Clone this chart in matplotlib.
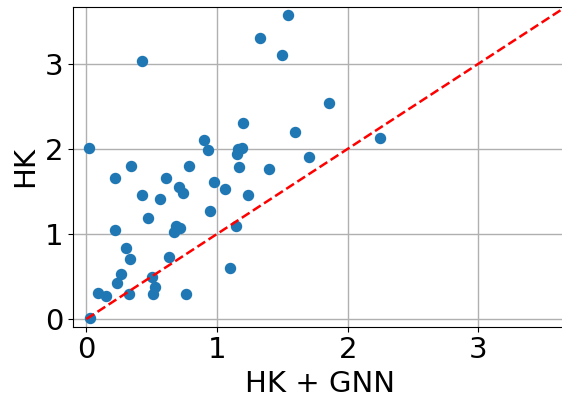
import matplotlib
matplotlib.use("Agg")
import matplotlib.pyplot as plt
import numpy as np

hk_gnn = [1.539, 1.332, 1.498, 0.429, 1.197, 1.600, 0.020, 0.901, 0.931, 1.158,
          1.194, 1.153, 1.705, 0.345, 0.783, 1.169, 1.396, 1.858, 2.243, 0.977,
          1.059, 1.238, 0.944, 1.148, 0.222, 0.607, 0.712, 0.743, 0.429, 0.561,
          0.472, 0.684, 0.714, 0.668, 0.222, 0.301, 0.337, 0.633, 1.100, 0.263,
          0.500, 0.235, 0.523, 0.089, 0.148, 0.329, 0.510, 0.760, 0.031]
hk = [3.573, 3.298, 3.098, 3.032, 2.298, 2.196, 2.008, 2.098, 1.992, 1.996,
      2.015, 1.937, 1.902, 1.800, 1.800, 1.790, 1.761, 2.533, 2.133, 1.616,
      1.529, 1.463, 1.274, 1.098, 1.663, 1.663, 1.549, 1.486, 1.463, 1.408,
      1.188, 1.094, 1.067, 1.027, 1.051, 0.831, 0.706, 0.725, 0.604, 0.529,
      0.498, 0.420, 0.373, 0.302, 0.271, 0.298, 0.294, 0.298, 0.012]

W, H = 562, 398
fig = plt.figure(figsize=(W / 100, H / 100), dpi=100)
left, right, top, bottom = 73.3, 566, 6.7, 326.7
ax = fig.add_axes([left / W, 1 - bottom / H, (right - left) / W, (bottom - top) / H])

ax.scatter(hk_gnn, hk, s=52, color="#1f77b4", zorder=3)
lim = [0, 3.8]
ax.plot(lim, lim, "r--", linewidth=1.8, zorder=4)
ax.set_xlim(-0.10, 3.67)
ax.set_ylim(-0.09, 3.67)
ax.set_xticks([0, 1, 2, 3])
ax.set_yticks([0, 1, 2, 3])
ax.grid(True, color="#b0b0b0", linewidth=1.0)
ax.set_axisbelow(True)
ax.tick_params(labelsize=21)
ax.set_xlabel("HK + GNN", fontsize=21)
ax.set_ylabel("HK", fontsize=21)
fig.savefig("out.png", dpi=100)
